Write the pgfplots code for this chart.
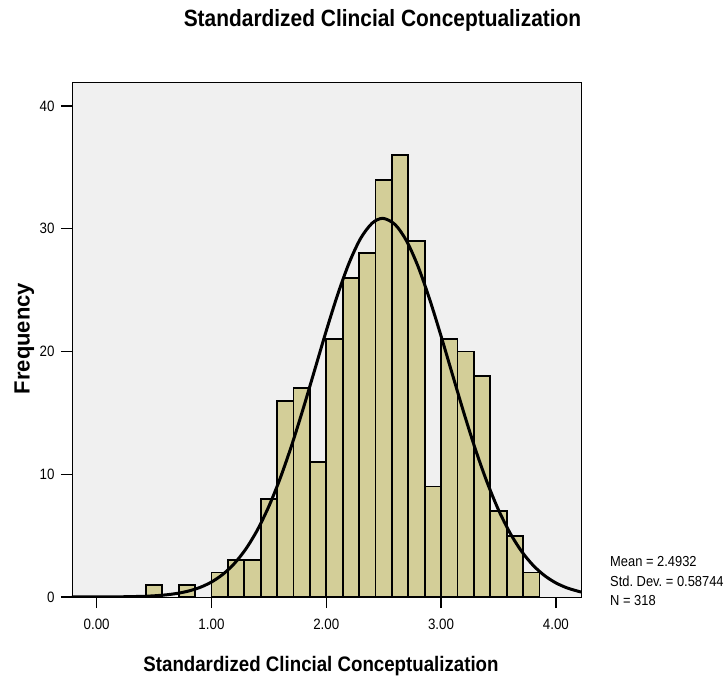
\documentclass[border=0pt]{standalone}
\usepackage{fontspec}
\setmainfont[FakeStretch=0.89]{Liberation Sans}
\newfontfamily\ylabfont{Liberation Sans}
\usepackage{pgfplots}
\pgfplotsset{compat=1.18}
\definecolor{barfill}{RGB}{211,206,152}
\definecolor{plotbg}{RGB}{240,240,240}
\frenchspacing

\begin{document}
\begin{tikzpicture}
\begin{axis}[
  name=ax,
  scale only axis, width=509bp, height=515bp,
  xmin=-0.215, xmax=4.219, ymin=0, ymax=41.96,
  axis background/.style={fill=plotbg},
  xtick={0,1,2,3,4}, ytick={0,10,20,30,40},
  xticklabels={0.00,1.00,2.00,3.00,4.00},
  tick align=outside, tick pos=left, major tick length=11bp,
  every tick/.style={black, line width=1.3bp},
  axis line style={line width=0.8bp},
  tick label style={font=\fontsize{15bp}{17bp}\selectfont},
  xticklabel style={yshift=-8bp},
  yticklabel style={xshift=-3bp},
  /pgf/number format/assume math mode=true,
]
% histogram, bin width 1/7
\pgfplotsset{every axis plot/.append style={line width=1.8bp}}
\addplot[ybar interval, fill=barfill, draw=black]
  coordinates {(0.428571,1) (0.571429,1)};
\addplot[ybar interval, fill=barfill, draw=black]
  coordinates {(0.714286,1) (0.857143,1)};
\addplot[ybar interval, fill=barfill, draw=black]
  coordinates {
  (1.000000,2) (1.142857,3) (1.285714,3) (1.428571,8) (1.571429,16)
  (1.714286,17) (1.857143,11) (2.000000,21) (2.142857,26) (2.285714,28)
  (2.428571,34) (2.571429,36) (2.714286,29) (2.857143,9) (3.000000,21)
  (3.142857,20) (3.285714,18) (3.428571,7) (3.571429,5) (3.714286,2)
  (3.857143,2)};
% fitted normal curve (mean 2.4932, sd 0.58744, N 318)
\addplot[black, line width=3bp, smooth] coordinates {
  (-0.215,0.0007) (-0.2,0.0008) (0.0,0.0038) (0.2,0.0151) (0.4,0.054)
  (0.5,0.0976) (0.6,0.171) (0.7,0.292) (0.8,0.485) (0.9,0.780)
  (1.0,1.220) (1.1,1.853) (1.2,2.735) (1.3,3.921) (1.4,5.461)
  (1.5,7.388) (1.6,9.711) (1.7,12.40) (1.8,15.38) (1.9,18.53)
  (2.0,21.69) (2.1,24.66) (2.2,27.24) (2.3,29.23) (2.4,30.46)
  (2.4932,30.85) (2.6,30.34) (2.7,29.00) (2.8,26.92) (2.9,24.27)
  (3.0,21.26) (3.1,18.10) (3.2,14.96) (3.3,12.01) (3.4,9.372)
  (3.5,7.103) (3.6,5.229) (3.7,3.739) (3.8,2.599) (3.9,1.754)
  (4.0,1.150) (4.1,0.732) (4.2,0.453) (4.219,0.412)};
\end{axis}
\node[anchor=base, font=\bfseries\fontsize{23.5bp}{26bp}\selectfont]
  at ([xshift=56bp,yshift=55.3bp]ax.north) {Standardized Clincial Conceptualization};
\node[anchor=base, font=\bfseries\fontsize{21bp}{24bp}\selectfont]
  at ([xshift=-5.5bp,yshift=-74.3bp]ax.south) {Standardized Clincial Conceptualization};
\node[rotate=90, anchor=base, font=\ylabfont\bfseries\fontsize{22bp}{24bp}\selectfont]
  at ([xshift=-42.5bp,yshift=1bp]ax.west) {Frequency};
\begin{scope}[every node/.style={anchor=base west, inner sep=0pt, font=\fontsize{14.5bp}{17bp}\selectfont}]
\node at ([xshift=29bp,yshift=30.3bp]ax.south east) {Mean = 2.4932};
\node at ([xshift=29bp,yshift=10.3bp]ax.south east) {Std. Dev. = 0.58744};
\node at ([xshift=29bp,yshift=-8.7bp]ax.south east) {N = 318};
\end{scope}
% page extent
\path ([shift={(-72bp,-82bp)}]ax.south west) rectangle ([shift={(147bp,82bp)}]ax.north east);
\end{tikzpicture}
\end{document}
